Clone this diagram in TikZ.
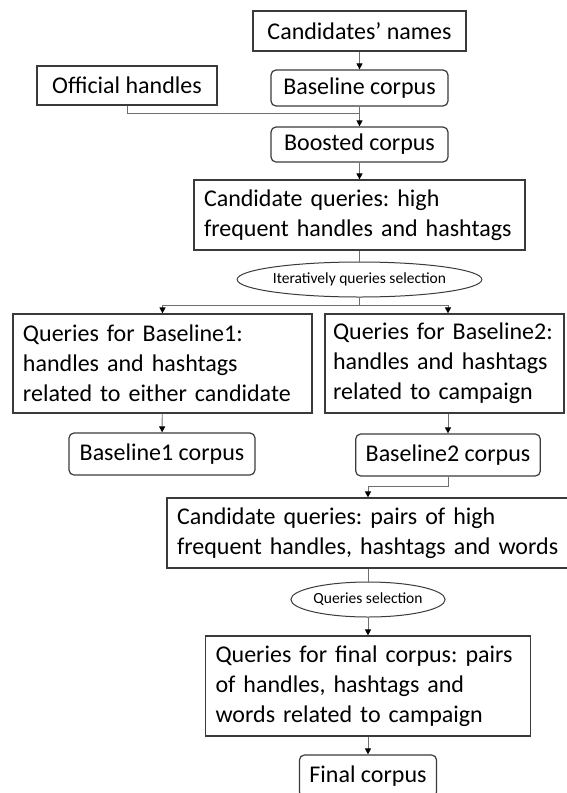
\documentclass[tikz,border=0pt]{standalone}
\usepackage{fontspec}
\setmainfont{Carlito}
\usepackage{tikz}
\usetikzlibrary{arrows.meta}
\usetikzlibrary{shapes.geometric}

\definecolor{boxline}{HTML}{3A3A3A}
\definecolor{connline}{HTML}{6E6E6E}

\frenchspacing
\hyphenpenalty=10000

\begin{document}
\begin{tikzpicture}[x=1pt, y=-1pt,
        box/.style={draw=boxline, line width=1.2pt, inner xsep=10pt,
            inner ysep=0pt, font=\fontsize{24}{30}\selectfont},
        rbox/.style={box, rounded corners=5pt},
        mbox/.style={box, align=left},
        sel/.style={ellipse, draw=boxline, line width=1pt, inner sep=0pt,
            font=\fontsize{15.5}{18}\selectfont},
        conn/.style={draw=connline, line width=0.9pt},
        arr/.style={conn, -{Triangle[length=6pt, width=6pt, color=black]}}]

        \useasboundingbox (0,0) rectangle (566,793);

        \node[box, minimum width=213pt, minimum height=40pt]
        (names) at (359.5,31) {Candidates’ names};

        \node[box, minimum width=180pt, minimum height=39pt]
        (off) at (127,85.5) {Official handles};

        \node[rbox, minimum width=177pt, minimum height=36pt]
        (base) at (359.5,88) {Baseline corpus};

        \node[rbox, minimum width=177pt, minimum height=35pt]
        (boost) at (359.5,144.5) {Boosted corpus};

        \node[mbox, text width=311pt, minimum height=70pt]
        (cq1) at (359.5,215)
        {Candidate queries: high\\frequent handles and hashtags};

        \node[sel, minimum width=215pt, minimum height=35pt]
        (sel1) at (359.5,279.5) {Iteratively queries selection};

        \node[mbox, text width=279pt, minimum height=99pt]
        (qb1) at (162.5,363.5)
        {Queries for Baseline1:\\handles and hashtags\\related to either candidate};

        \node[mbox, inner xsep=8pt, text width=223pt, minimum height=99pt]
        (qb2) at (444.5,363.5)
        {Queries for Baseline2:\\handles and hashtags\\related to campaign};

        \node[rbox, minimum width=186pt, minimum height=42pt]
        (b1) at (162,454) {Baseline1 corpus};

        \node[rbox, minimum width=184pt, minimum height=42pt]
        (b2) at (448,455) {Baseline2 corpus};

        \node[mbox, text width=382pt, minimum height=70pt]
        (cq2) at (368,533)
        {Candidate queries: pairs of high\\frequent handles, hashtags and words};

        \node[sel, minimum width=154pt, minimum height=35pt]
        (sel2) at (368,599.5) {Queries selection};

        \node[mbox, text width=305pt, minimum height=100pt]
        (fq) at (368,686)
        {Queries for final corpus: pairs\\of handles, hashtags and\\words related to campaign};

        \node[rbox, minimum width=129pt, minimum height=42pt]
        (fin) at (368,776) {Final corpus};

        \coordinate (j1) at (359.5,113);
        \coordinate (j2) at (359.5,305);
        \coordinate (j3) at (448,486);

        \draw[arr] (names) -- (base);
        \draw[arr] (base) -- (boost);
        \draw[conn] (off.south) |- (j1);
        \draw[arr] (boost) -- (cq1);
        \draw[conn] (cq1) -- (sel1);
        \draw[conn] (sel1) -- (j2);
        \draw[arr] (j2) -| (qb1.north);
        \draw[arr] (j2) -| (qb2.north -| b2);
        \draw[arr] (qb1) -- (b1);
        \draw[arr] (qb2.south -| b2) -- (b2);
        \draw[arr] (b2.south) -- (j3) -| (cq2.north);
        \draw[conn] (cq2) -- (sel2);
        \draw[arr] (sel2) -- (fq);
        \draw[arr] (fq) -- (fin);
\end{tikzpicture}
\end{document}
